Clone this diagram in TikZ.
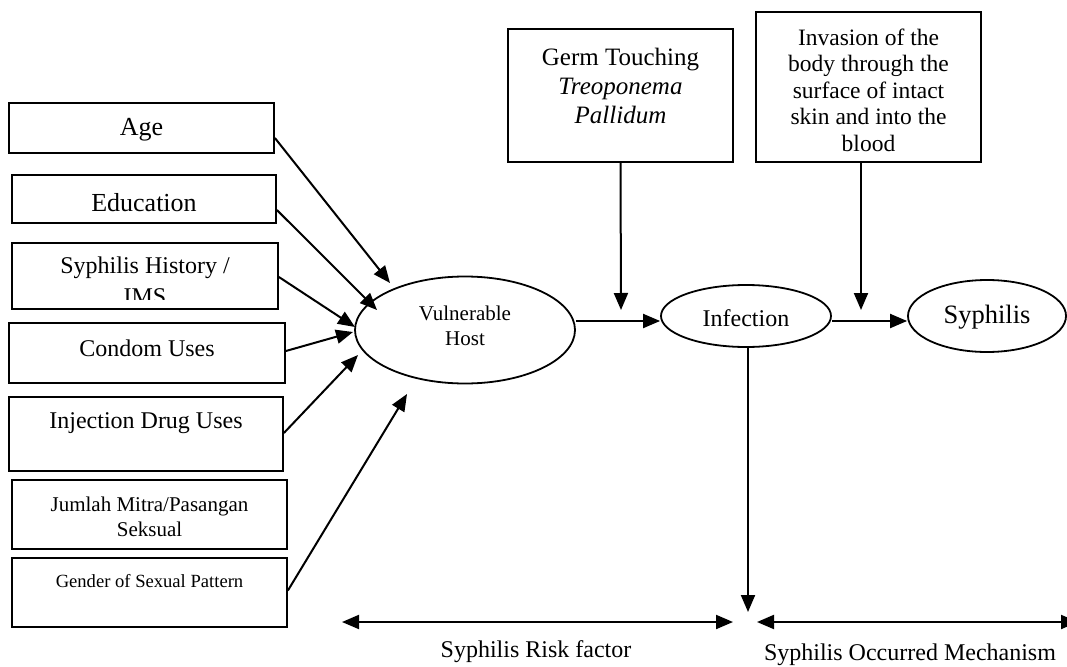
\documentclass[tikz,border=0pt]{standalone}
\usepackage{fontspec}
\setmainfont{Liberation Serif}
\usetikzlibrary{arrows.meta,shapes.geometric,calc}
\begin{document}
\begin{tikzpicture}[x=1pt,y=-1pt,
  box/.style={draw, line width=1.8pt, rectangle, inner sep=0pt},
  oval/.style={draw, line width=1.8pt, ellipse, inner sep=0pt},
  conn/.style={line width=2pt, -{Triangle[length=17pt,width=14pt]}},
  dbl/.style={line width=2pt, {Triangle[length=17pt,width=14pt]}-{Triangle[length=17pt,width=14pt]}},
  txt/.style={inner sep=0pt, align=center}]
\useasboundingbox (0,0) rectangle (1067,666);

% left boxes
\node[box, minimum width=265pt, minimum height=50pt] (age) at (141.5,128) {};
\node[txt, font=\fontsize{26}{30}\selectfont] (agetxt) at (141.5,130) {Age};
\node[box, minimum width=264pt, minimum height=48pt] (edu) at (144,199) {};
\node[txt, font=\fontsize{26}{30}\selectfont] (edutxt) at (144,203) {Education};
\node[box, minimum width=266pt, minimum height=66pt] (hist) at (145,276) {};
\node[txt, font=\fontsize{24}{28}\selectfont] (histtxt) at (145,268) {Syphilis History /};
\begin{scope}
  \clip (0,0) rectangle (1067,299.5);
  \node[txt, font=\fontsize{24}{28}\selectfont] (imstxt) at (145,297) {IMS};
\end{scope}
\node[box, minimum width=276pt, minimum height=60pt] (condom) at (147,353) {};
\node[txt, font=\fontsize{24}{28}\selectfont] (condomtxt) at (147,348) {Condom Uses};
\node[box, minimum width=274pt, minimum height=74pt] (inj) at (146,434) {};
\node[txt, font=\fontsize{24}{28}\selectfont] (injtxt) at (146,423) {Injection Drug Uses};
\node[box, minimum width=275pt, minimum height=69pt] (mitra) at (149.5,514.5) {};
\node[txt, font=\fontsize{21}{25}\selectfont] (mitratxt) at (149.5,516.5) {Jumlah Mitra/Pasangan\\Seksual};
\node[box, minimum width=275pt, minimum height=69pt] (gender) at (149.5,592.5) {};
\node[txt, font=\fontsize{18.6}{22}\selectfont] (gendertxt) at (149.5,581) {Gender of Sexual Pattern};

% ellipses
\node[oval, minimum width=220pt, minimum height=107pt] (vh) at (465,330) {};
\node[txt, font=\fontsize{21}{25}\selectfont] (vhtxt) at (465,326) {Vulnerable\\Host};
\node[oval, minimum width=170pt, minimum height=62pt] (inf) at (746,316) {};
\node[txt, font=\fontsize{24}{28}\selectfont] (inftxt) at (746,318) {Infection};
\node[oval, minimum width=158pt, minimum height=72pt] (syph) at (987,316) {};
\node[txt, font=\fontsize{26.5}{30}\selectfont] (syphtxt) at (987,317) {Syphilis};

% top boxes
\node[box, minimum width=225pt, minimum height=133pt] (germ) at (620.5,95.5) {};
\node[txt, font=\fontsize{25}{29}\selectfont] (germtxt) at (620.5,86) {Germ Touching\\\textit{Treoponema}\\\textit{Pallidum}};
\node[box, minimum width=225pt, minimum height=150pt] (inv) at (868.5,87) {};
\node[txt, font=\fontsize{23.5}{26.5}\selectfont] (invtxt) at (868.5,90) {Invasion of the\\body through the\\surface of intact\\skin and into the\\blood};

% tip coordinates
\coordinate (tage) at (390,283);
\coordinate (tedu) at (377,310);
\coordinate (thist) at (355,327);
\coordinate (tcondom) at (353,332);
\coordinate (tinj) at (358,355);
\coordinate (tgender) at (407,394);
\coordinate (tgerm) at (621,310);
\coordinate (tinv) at (861,310);
\coordinate (tdown) at (748,612);
\coordinate (l1) at (342,622);
\coordinate (l2) at (733,622);
\coordinate (r1) at (757,622);
\coordinate (r2) at (1078,622);

% connectors
\draw[conn] ([yshift=-10pt]age.east) -- (tage);
\draw[conn] ([yshift=-11pt]edu.east) -- (tedu);
\draw[conn] ([yshift=-1pt]hist.east) -- (thist);
\draw[conn] ([yshift=2pt]condom.east) -- (tcondom);
\draw[conn] ([yshift=1pt]inj.east) -- (tinj);
\draw[conn] ([yshift=2pt]gender.east) -- (tgender);
\draw[conn] (germ.south) -- (tgerm);
\draw[conn] ([xshift=-7.5pt]inv.south) -- (tinv);
\draw[conn] ([yshift=9pt]vh.east) -- ([yshift=-5pt]inf.west);
\draw[conn] ([yshift=-5pt]inf.east) -- ([yshift=-5pt]syph.west);
\draw[conn] ([xshift=2pt]inf.south) -- (tdown);
\draw[dbl] (l1) -- (l2);
\draw[dbl] (r1) -- (r2);

\node[txt, font=\fontsize{24}{28}\selectfont] (risk) at (536,652) {Syphilis Risk factor};
\node[txt, font=\fontsize{24}{28}\selectfont] (mech) at (910,655) {Syphilis Occurred Mechanism};
\end{tikzpicture}
\end{document}
